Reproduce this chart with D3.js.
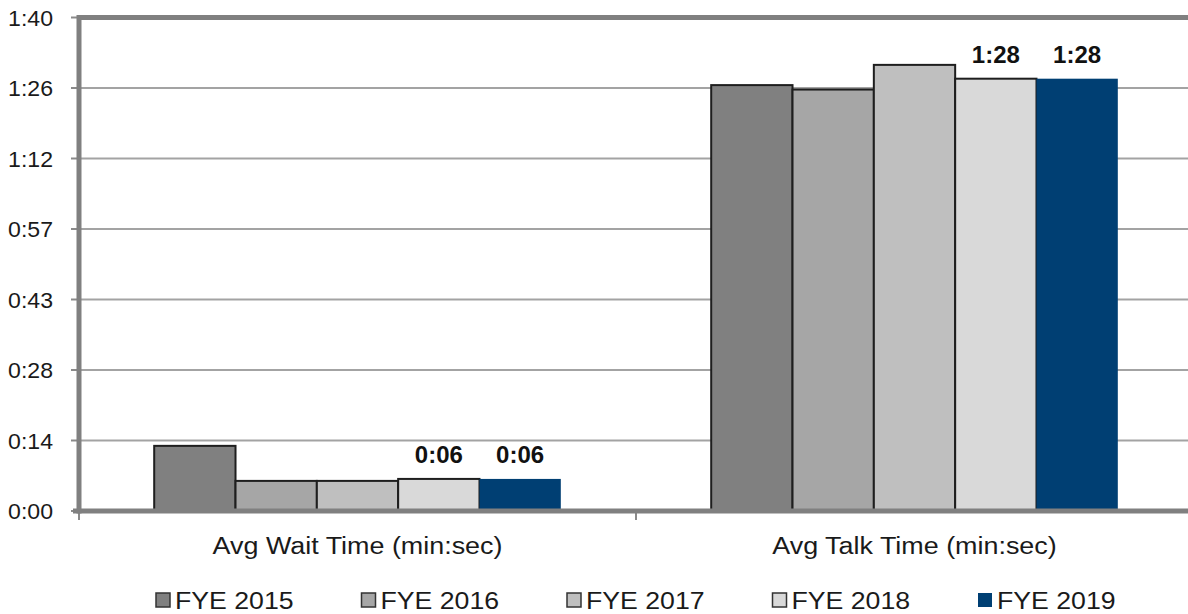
<!DOCTYPE html>
<html>
<head>
<meta charset="utf-8">
<script src="https://cdn.jsdelivr.net/npm/d3@7"></script>
<style>
  html, body { margin: 0; padding: 0; background: #fff; }
  svg { display: block; font-family: "Liberation Sans", Arial, sans-serif; }
</style>
</head>
<body>
<svg id="chart" width="1188" height="614"></svg>
<script>
// ---- data ----
const categories = ["Avg Wait Time (min:sec)", "Avg Talk Time (min:sec)"];
const seriesNames = ["FYE 2015", "FYE 2016", "FYE 2017", "FYE 2018", "FYE 2019"];
// values in seconds, per series, in category order
const fye2015 = [13.2, 86.3];
const fye2016 = [6.1, 85.4];
const fye2017 = [6.1, 90.4];
const fye2018 = [6.5, 87.6];
const fye2019 = [6.5, 87.6];
const seriesValues = [fye2015, fye2016, fye2017, fye2018, fye2019];
// data labels shown (series index -> labels per category)
const labelSeries = [3, 4];
const dataLabels = [["0:06", "1:28"], ["0:06", "1:28"]];
const yTickLabels = ["0:00", "0:14", "0:28", "0:43", "0:57", "1:12", "1:26", "1:40"];
const yMax = 100;

const colors = ["#808080", "#a6a6a6", "#bfbfbf", "#d9d9d9", "#003f73"];

// ---- layout ----
const svg = d3.select("#chart");
const pLeft = 79, pTop = 17.5, pBottom = 511, pRight = 1193;

const y = d3.scaleLinear().domain([0, yMax]).range([pBottom, pTop]);
const x0 = d3.scaleBand().domain(categories).range([pLeft, pRight]).paddingInner(0).paddingOuter(0);
const x1 = d3.scaleBand().domain(seriesNames).range([0, x0.bandwidth() * 0.73]);
const groupOffset = x0.bandwidth() * 0.135;

const tickVals = yTickLabels.map((d, i) => i * yMax / (yTickLabels.length - 1));

// gridlines
svg.append("g").selectAll("line").data(tickVals.slice(1, -1)).join("line")
  .attr("x1", pLeft).attr("x2", 1188)
  .attr("y1", d => y(d)).attr("y2", d => y(d))
  .attr("stroke", "#a3a3a3").attr("stroke-width", 2);

// y tick marks
svg.append("g").selectAll("line").data(tickVals).join("line")
  .attr("x1", pLeft - 8).attr("x2", pLeft)
  .attr("y1", d => y(d)).attr("y2", d => y(d))
  .attr("stroke", "#8a8a8a").attr("stroke-width", 2);

// y tick labels
svg.append("g").selectAll("text").data(tickVals).join("text")
  .attr("transform", d => `translate(53,${y(d) + 8}) scale(1.05,1)`)
  .attr("text-anchor", "end")
  .attr("font-size", 22)
  .attr("fill", "#1a1a1a")
  .text((d, i) => yTickLabels[i]);

// bars
const bars = [];
seriesValues.forEach((vals, si) => {
  vals.forEach((v, ci) => bars.push({ si, ci, v }));
});
svg.append("g").selectAll("rect").data(bars).join("rect")
  .attr("x", d => x0(categories[d.ci]) + groupOffset + x1(seriesNames[d.si]))
  .attr("width", x1.bandwidth())
  .attr("y", d => y(d.v))
  .attr("height", d => y(0) - y(d.v))
  .attr("fill", d => colors[d.si])
  .attr("stroke", d => d.si === 4 ? "none" : "#1e1e1e")
  .attr("stroke-width", 2);

// x category tick marks
const bounds = [pLeft, x0(categories[1])];
svg.append("g").selectAll("line").data(bounds).join("line")
  .attr("x1", d => d).attr("x2", d => d)
  .attr("y1", pBottom).attr("y2", pBottom + 9)
  .attr("stroke", "#8a8a8a").attr("stroke-width", 2);

// axes lines (left, top, bottom)
svg.append("line").attr("x1", pLeft).attr("x2", 1188).attr("y1", pTop).attr("y2", pTop)
  .attr("stroke", "#808080").attr("stroke-width", 5);
svg.append("line").attr("x1", pLeft - 6).attr("x2", 1188).attr("y1", pBottom).attr("y2", pBottom)
  .attr("stroke", "#808080").attr("stroke-width", 5);
svg.append("line").attr("x1", pLeft).attr("x2", pLeft).attr("y1", pTop - 2.5).attr("y2", pBottom + 2.5)
  .attr("stroke", "#808080").attr("stroke-width", 5);

// data labels
labelSeries.forEach((si, li) => {
  categories.forEach((c, ci) => {
    const cx = x0(c) + groupOffset + x1(seriesNames[si]) + x1.bandwidth() / 2;
    svg.append("text")
      .attr("x", cx).attr("y", y(seriesValues[si][ci]) - 16)
      .attr("text-anchor", "middle")
      .attr("font-size", 24).attr("font-weight", "bold")
      .attr("fill", "#111")
      .text(dataLabels[li][ci]);
  });
});

// category labels
svg.append("g").selectAll("text").data(categories).join("text")
  .attr("transform", d => `translate(${x0(d) + x0.bandwidth() / 2},554) scale(1.17,1)`)
  .attr("text-anchor", "middle")
  .attr("font-size", 23)
  .attr("fill", "#1a1a1a")
  .text(d => d);

// legend
const lg = svg.append("g").selectAll("g").data(seriesNames).join("g")
  .attr("transform", (d, i) => `translate(${155 + i * 205.5},0)`);
lg.append("rect")
  .attr("x", 1).attr("y", 593).attr("width", 14).attr("height", 14)
  .attr("fill", (d, i) => colors[i])
  .attr("stroke", (d, i) => i === 4 ? "none" : "#333")
  .attr("stroke-width", 1.5);
lg.append("text")
  .attr("transform", `translate(20,609) scale(1.16,1)`)
  .attr("font-size", 23)
  .attr("fill", "#1a1a1a")
  .text(d => d);
</script>
</body>
</html>
